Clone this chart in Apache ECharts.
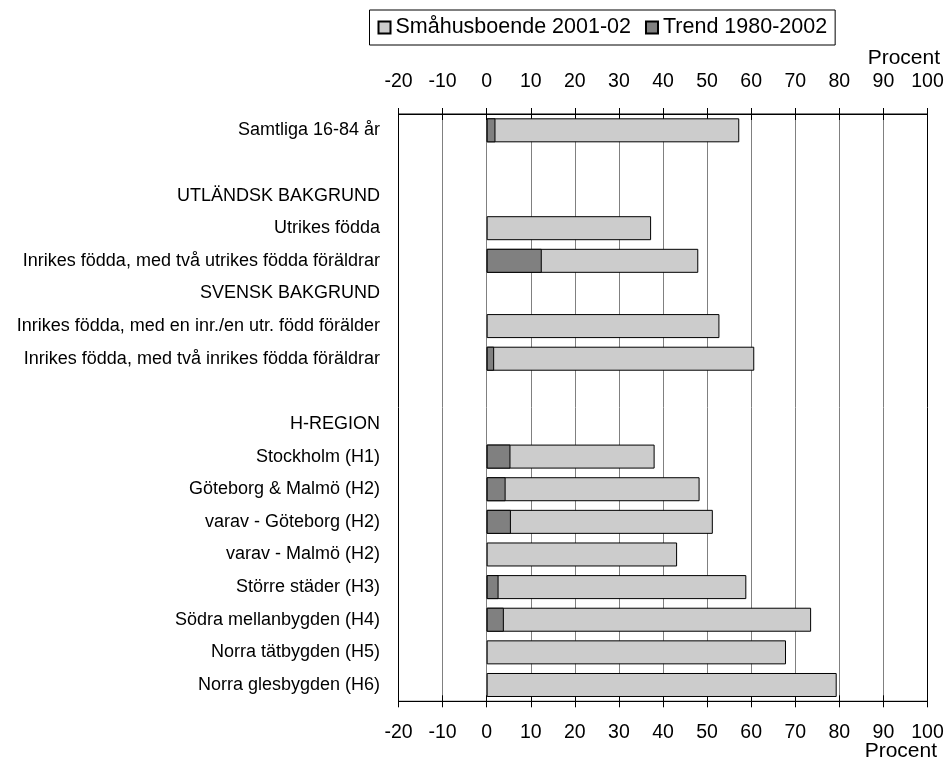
<!DOCTYPE html>
<html>
<head>
<meta charset="utf-8">
<script src="https://cdn.jsdelivr.net/npm/echarts@6/dist/echarts.min.js"></script>
<style>
  html, body { margin: 0; padding: 0; background: #fff; }
  #chart { width: 947px; height: 761px; }
</style>
</head>
<body>
<div id="chart"></div>
<script>
// categories top to bottom (blank strings are spacer rows)
const categories = [
    'Samtliga 16-84 år',
    ' ',
    'UTLÄNDSK BAKGRUND',
    'Utrikes födda',
    'Inrikes födda, med två utrikes födda föräldrar',
    'SVENSK BAKGRUND',
    'Inrikes födda, med en inr./en utr. född förälder',
    'Inrikes födda, med två inrikes födda föräldrar',
    '  ',
    'H-REGION',
    'Stockholm (H1)',
    'Göteborg & Malmö (H2)',
    'varav - Göteborg (H2)',
    'varav - Malmö (H2)',
    'Större städer (H3)',
    'Södra mellanbygden (H4)',
    'Norra tätbygden (H5)',
    'Norra glesbygden (H6)'
];
const smahusboende = [57.3, null, null, 37.3, 48.0, null, 52.8, 60.7, null, null, 38.1, 48.3, 51.3, 43.2, 58.9, 73.6, 67.9, 79.4];
const trend = [2.0, null, null, null, 12.5, null, null, 1.7, null, null, 5.4, 4.3, 5.5, null, 2.7, 3.9, null, null];
const xTicks = { min: -20, max: 100, interval: 10 };

const font = 'Liberation Sans, Arial, sans-serif';
const chart = echarts.init(document.getElementById('chart'));

function xAxis(position, withLabels, inside) {
    return {
        type: 'value',
        position: position,
        min: xTicks.min,
        max: xTicks.max,
        interval: xTicks.interval,
        axisLine: { show: withLabels, lineStyle: { color: '#000', width: 1 } },
        axisTick: { show: true, inside: inside, length: 6, lineStyle: { color: '#000' } },
        axisLabel: {
            show: withLabels,
            color: '#000',
            fontFamily: font,
            fontSize: 19.5,
            margin: position === 'top' ? 22 : 21
        },
        splitLine: {
            show: withLabels && position === 'top',
            showMinLine: false,
            showMaxLine: false,
            lineStyle: { color: '#808080', width: 1 }
        }
    };
}

chart.setOption({
    animation: false,
    backgroundColor: '#fff',
    grid: {
        left: 398.5, right: 19.5, top: 114, bottom: 59.7,
        show: true, borderColor: '#000', borderWidth: 1
    },
    legend: {
        left: 369.5, top: 10,
        padding: [6.5, 8],
        borderColor: '#000', borderWidth: 1,
        itemWidth: 12, itemHeight: 12, itemGap: 14,
        icon: 'rect',
        textStyle: { color: '#000', fontFamily: font, fontSize: 21.5 },
        data: ['Småhusboende 2001-02', 'Trend 1980-2002']
    },
    graphic: [
        { type: 'text', right: 7, top: 48,
          style: { text: 'Procent', fill: '#000', font: '21px ' + font } },
        { type: 'text', right: 10, top: 741,
          style: { text: 'Procent', fill: '#000', font: '21px ' + font } }
    ],
    xAxis: [
        xAxis('top', true, false),
        xAxis('top', false, true),
        xAxis('bottom', true, false),
        xAxis('bottom', false, true)
    ],
    yAxis: {
        type: 'category',
        inverse: true,
        data: categories,
        axisLine: { show: false },
        axisTick: { show: false },
        splitLine: { show: false },
        axisLabel: { color: '#000', fontFamily: font, fontSize: 18, margin: 18.5 }
    },
    series: [
        {
            name: 'Småhusboende 2001-02',
            type: 'bar',
            xAxisIndex: 0,
            barWidth: 24,
            barGap: '-100%',
            itemStyle: { color: '#cccccc', borderColor: '#000', borderWidth: 1 },
            data: smahusboende
        },
        {
            name: 'Trend 1980-2002',
            type: 'bar',
            xAxisIndex: 0,
            barWidth: 24,
            barGap: '-100%',
            itemStyle: { color: '#808080', borderColor: '#000', borderWidth: 1 },
            data: trend
        }
    ]
});
</script>
</body>
</html>
